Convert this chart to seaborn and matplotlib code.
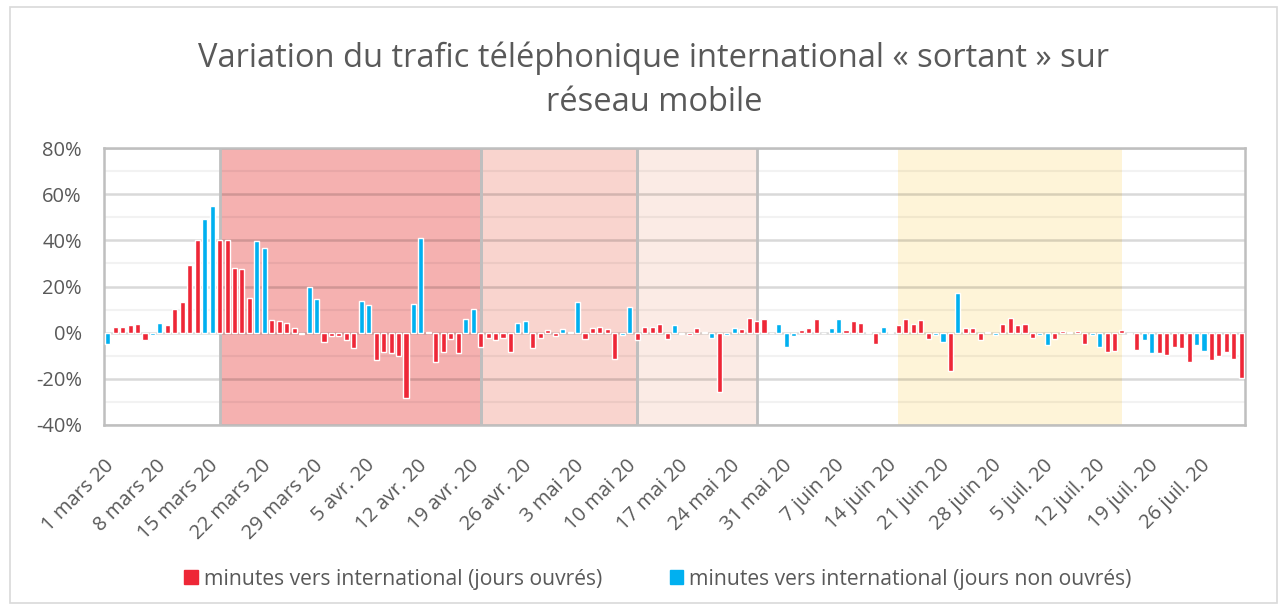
import pandas as pd
import numpy as np
import matplotlib
matplotlib.use('Agg')
import matplotlib.pyplot as plt
import matplotlib.transforms as mtransforms
import seaborn as sns
from matplotlib.patches import Patch, Rectangle
from matplotlib.ticker import MultipleLocator

# Variation journaliere (%), du 1 mars au 31 juillet 2020
var_mars = [-4.7, 2.4, 2.4, 3.2, 3.9, -3.3, -1.2, 4.3, 3.2, 10.4, 13.2, 29.4, 40.3, 49.2, 54.7,
            40.3, 40.3, 28.2, 27.6, 15.0, 39.9, 36.5, 5.3, 4.9, 4.3, 2.2, -0.4, 19.7, 14.8, -4.0, -1.6]
var_avril = [-1.6, -3.3, -6.6, 13.7, 12.1, -11.7, -8.2, -8.8, -10.1, -28.2, 12.5, 40.9, 0.3, -12.7, -8.2,
             -2.9, -8.8, 5.9, 10.4, -6.2, -2.2, -3.3, -2.2, -8.3, 4.3, 4.9, -6.6, -2.2, 1.0, -1.6]
var_mai = [1.6, 0.4, 13.2, -2.9, 2.2, 2.6, 1.6, -11.2, -0.9, 11.1, -3.3, 2.6, 2.6, 3.7, -2.9,
           3.2, -0.4, -1.2, 2.2, 0.4, -2.2, -25.9, -1.2, 2.2, 1.6, 6.5, 4.9, 5.9, -0.3, 3.7, -6.0]
var_juin = [-1.4, 1.0, 2.2, 5.9, -0.3, 2.2, 5.9, 1.0, 4.9, 4.3, 0.3, -4.7, 2.4, 0.3, 3.2,
            5.9, 3.7, 5.3, -2.9, -1.2, -3.9, -16.5, 17.1, 2.0, 2.0, -3.3, 0.4, -0.9, 3.7, 6.5]
var_juillet = [3.2, 3.7, -2.2, -1.2, -5.5, -2.9, 0.7, 0.3, 0.7, -5.0, -1.2, -6.2, -8.3, -7.9, 1.3,
               -0.4, -7.3, -3.3, -8.8, -8.8, -9.5, -6.2, -6.6, -12.8, -5.5, -7.9, -11.7, -10.1, -8.3, -11.2, -19.8]

# jours de semaine comptes comme "non ouvres" (en plus des week-ends)
jours_non_ouvres_extra = ['2020-04-13', '2020-05-01', '2020-05-21', '2020-06-01', '2020-06-23']

# periodes surlignees (debut, fin, couleur)
periodes_debut = ['2020-03-16', '2020-04-20', '2020-05-11', '2020-06-15']
periodes_fin = ['2020-04-20', '2020-05-11', '2020-05-27', '2020-07-15']
periodes_couleur = ['#F5B1B0', '#F9D4CE', '#FBEBE5', '#FEF4D8']
periodes_bordure = [True, True, True, False]

tick_labels = ['1 mars 20', '8 mars 20', '15 mars 20', '22 mars 20', '29 mars 20', '5 avr. 20',
               '12 avr. 20', '19 avr. 20', '26 avr. 20', '3 mai 20', '10 mai 20', '17 mai 20',
               '24 mai 20', '31 mai 20', '7 juin 20', '14 juin 20', '21 juin 20', '28 juin 20',
               '5 juil. 20', '12 juil. 20', '19 juil. 20', '26 juil. 20']

lbl_ouvre = 'minutes vers international (jours ouvrés)'
lbl_non_ouvre = 'minutes vers international (jours non ouvrés)'
titre = 'Variation du trafic téléphonique international « sortant » sur\nréseau mobile'

RED = '#EE2737'
BLUE = '#00B0F0'
GREY_TXT = '#595959'
GREY_LINE = '#BFBFBF'


def main():
    dates = pd.date_range('2020-03-01', '2020-07-31', freq='D')
    values = var_mars + var_avril + var_mai + var_juin + var_juillet
    df = pd.DataFrame({'date': dates, 'variation': values})
    df['jour'] = np.arange(len(df))
    extra = pd.to_datetime(jours_non_ouvres_extra)
    non_ouvre = (df['date'].dt.dayofweek >= 5) | df['date'].isin(extra)
    df['type'] = np.where(non_ouvre, lbl_non_ouvre, lbl_ouvre)

    sns.set_style('white')
    plt.rcParams['font.family'] = ['Open Sans', 'DejaVu Sans']

    fig = plt.figure(figsize=(12.87, 6.09), dpi=100)
    ax = fig.add_axes([104 / 1287, 1 - 425 / 609, (1245 - 104) / 1287, (425 - 148) / 609])

    # chart frame
    fig.patches.append(Rectangle((10 / 1287, 6 / 609), 1267 / 1287, 596 / 609,
                                 transform=fig.transFigure, fill=False,
                                 edgecolor='#D9D9D9', lw=1.2))

    # shaded periods
    idx = pd.Series(df['jour'].values, index=df['date'])
    for d0, d1, col, bord in zip(periodes_debut, periodes_fin, periodes_couleur, periodes_bordure):
        x0 = idx[pd.Timestamp(d0)]
        x1 = idx[pd.Timestamp(d1)]
        ax.axvspan(x0, x1, color=col, zorder=0.1, lw=0)
        if bord:
            for xb in (x0, x1):
                ax.axvline(xb, color=GREY_LINE, lw=2, zorder=0.6)

    sns.barplot(data=df, x='jour', y='variation', hue='type', dodge=False,
                palette={lbl_ouvre: RED, lbl_non_ouvre: BLUE},
                width=0.68, saturation=1, legend=False, ax=ax, zorder=3)

    ax.set_xlim(-0.5, len(df) - 0.5)
    ax.set_ylim(-40, 80)
    ax.set_axisbelow(True)
    ax.yaxis.set_major_locator(MultipleLocator(20))
    ax.yaxis.set_minor_locator(MultipleLocator(10))
    ax.grid(axis='y', which='major', color='black', alpha=0.15, lw=1.8)
    ax.grid(axis='y', which='minor', color='black', alpha=0.05, lw=1.5)
    ax.grid(axis='x', visible=False)
    ax.set_yticklabels([f'{int(v)}%' for v in ax.get_yticks()])
    ax.tick_params(axis='y', which='both', length=0, pad=16, labelsize=14.5, labelcolor=GREY_TXT)

    ticks = np.arange(0, len(df), 7) - 0.5
    ax.set_xticks(ticks)
    ax.set_xticklabels(tick_labels, rotation=45, ha='right', va='center',
                       rotation_mode='anchor')
    ax.tick_params(axis='x', direction='in', length=5, width=1.5, color=GREY_LINE,
                   pad=27, labelsize=14.5, labelcolor=GREY_TXT)
    # Excel puts the rotated labels a little to the right of the tick
    shift = mtransforms.ScaledTranslation(7 / 100, 0, fig.dpi_scale_trans)
    for lab in ax.get_xticklabels():
        lab.set_transform(lab.get_transform() + shift)
    ax.set_xlabel('')
    ax.set_ylabel('')

    for s in ax.spines.values():
        s.set_color(GREY_LINE)
        s.set_linewidth(1.8)

    fig.text(654 / 1287, 1 - 80 / 609, titre, ha='center', va='center',
             fontsize=23.5, color=GREY_TXT, linespacing=1.45)

    handles = [Patch(color=RED, label=lbl_ouvre), Patch(color=BLUE, label=lbl_non_ouvre)]
    fig.legend(handles=handles, loc='center', bbox_to_anchor=(658 / 1287, 1 - 579 / 609),
               ncol=2, frameon=False, fontsize=15.2, labelcolor=GREY_TXT,
               handlelength=0.62, handleheight=0.62, handletextpad=0.3,
               columnspacing=3.2)

    fig.savefig('out.png', dpi=100)
    plt.close(fig)


if __name__ == '__main__':
    main()
